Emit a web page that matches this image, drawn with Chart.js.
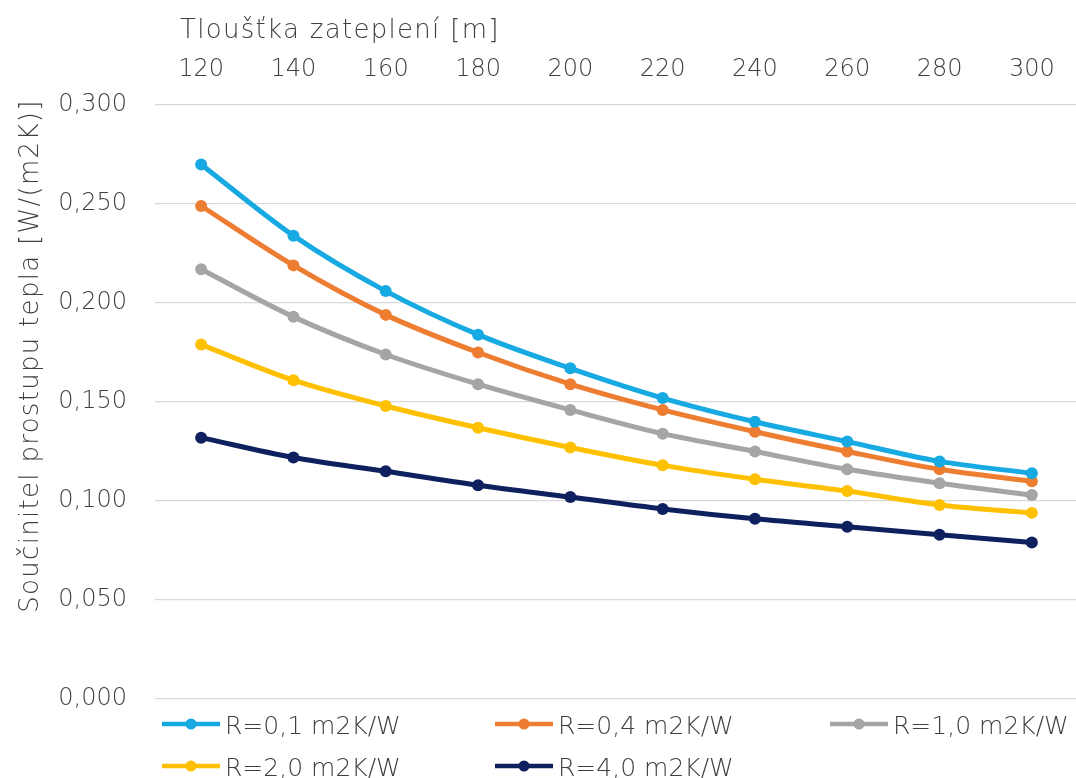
<!DOCTYPE html>
<html><head><meta charset="utf-8">
<script src="https://cdn.jsdelivr.net/npm/chart.js@4/dist/chart.umd.min.js"></script>
<style>
html,body{margin:0;padding:0;overflow:hidden;background:#fff;width:1076px;height:778px}
#wrap{position:absolute;left:0;top:0;width:1084px;height:778px}
</style></head>
<body><div id="wrap"><canvas id="c" width="1084" height="778"></canvas></div>
<script>
const categories = ['120','140','160','180','200','220','240','260','280','300'];
const xTitle = 'Tloušťka zateplení [m]';
const yTitle = 'Součinitel prostupu tepla [W/(m2K)]';
const seriesLabels = ['R=0,1 m2K/W','R=0,4 m2K/W','R=1,0 m2K/W','R=2,0 m2K/W','R=4,0 m2K/W'];
const r01 = [0.270,0.234,0.206,0.184,0.167,0.152,0.140,0.130,0.120,0.114];
const r04 = [0.249,0.219,0.194,0.175,0.159,0.146,0.135,0.125,0.116,0.110];
const r10 = [0.217,0.193,0.174,0.159,0.146,0.134,0.125,0.116,0.109,0.103];
const r20 = [0.179,0.161,0.148,0.137,0.127,0.118,0.111,0.105,0.098,0.094];
const r40 = [0.132,0.122,0.115,0.108,0.102,0.096,0.091,0.087,0.083,0.079];
const colors = ['#17A9E1','#ED7D31','#A5A5A5','#FFC000','#0E215E'];
const seriesValues = [r01,r04,r10,r20,r40];

const FONT = '"DejaVu Sans", sans-serif';
const WEIGHT = '200';
const TXT = '#404040';

const titlesPlugin = {
  id: 'titles',
  afterDraw(chart) {
    const ctx = chart.ctx;
    ctx.save();
    ctx.fillStyle = TXT;
    ctx.font = WEIGHT + ' 26px ' + FONT;
    if ('letterSpacing' in ctx) ctx.letterSpacing = '1.3px';
    ctx.textAlign = 'left';
    ctx.textBaseline = 'alphabetic';
    ctx.fillText(xTitle, 180, 38);
    ctx.translate(38, 356);
    ctx.rotate(-Math.PI/2);
    ctx.textAlign = 'center';
    ctx.fillText(yTitle, 0, 0);
    ctx.restore();
  }
};

const legendPlugin = {
  id: 'gridLegend',
  afterDraw(chart) {
    const ctx = chart.ctx;
    const cols = [162, 495, 830];
    const rows = [724, 766];
    ctx.save();
    chart.data.datasets.forEach((ds, i) => {
      const x = cols[i % 3], y = rows[Math.floor(i / 3)];
      ctx.strokeStyle = ds.borderColor;
      ctx.lineWidth = 4.5;
      ctx.beginPath(); ctx.moveTo(x, y); ctx.lineTo(x + 58, y); ctx.stroke();
      ctx.fillStyle = ds.borderColor;
      ctx.beginPath(); ctx.arc(x + 29, y, 5.5, 0, Math.PI*2); ctx.fill();
      ctx.fillStyle = TXT;
      ctx.font = WEIGHT + ' 25px ' + FONT;
      ctx.textAlign = 'left';
      ctx.textBaseline = 'middle';
      ctx.fillText(ds.label, x + 63, y + 3);
    });
    ctx.restore();
  }
};

new Chart(document.getElementById('c'), {
  type: 'line',
  data: {
    labels: categories,
    datasets: seriesValues.map((v, i) => ({
      label: seriesLabels[i],
      data: v,
      borderColor: colors[i],
      backgroundColor: colors[i],
      borderWidth: 5,
      pointRadius: 6,
      pointBorderWidth: 0,
      pointBackgroundColor: colors[i],
      tension: 0.3,
      cubicInterpolationMode: 'monotone'
    }))
  },
  options: {
    responsive: false,
    devicePixelRatio: 1,
    animation: false,
    layout: { padding: { top: 0, left: 0, right: 0, bottom: 79 } },
    plugins: { legend: { display: false }, tooltip: { enabled: false } },
    scales: {
      x: {
        position: 'top',
        offset: true,
        grid: { display: false, drawTicks: false },
        border: { display: false },
        ticks: { font: { size: 24, family: FONT, weight: WEIGHT }, color: TXT, padding: 21, maxRotation: 0 },
        afterFit(s) { s.height = 105; }
      },
      y: {
        min: 0, max: 0.3,
        grid: { color: '#D9D9D9', lineWidth: 1.3, drawTicks: false },
        border: { display: false },
        ticks: {
          stepSize: 0.05,
          font: { size: 24, family: FONT, weight: WEIGHT }, color: TXT, padding: 28,
          callback: v => v.toFixed(3).replace('.', ',')
        },
        afterFit(s) { s.width = 155; }
      }
    }
  },
  plugins: [titlesPlugin, legendPlugin]
});
</script>
</body></html>
